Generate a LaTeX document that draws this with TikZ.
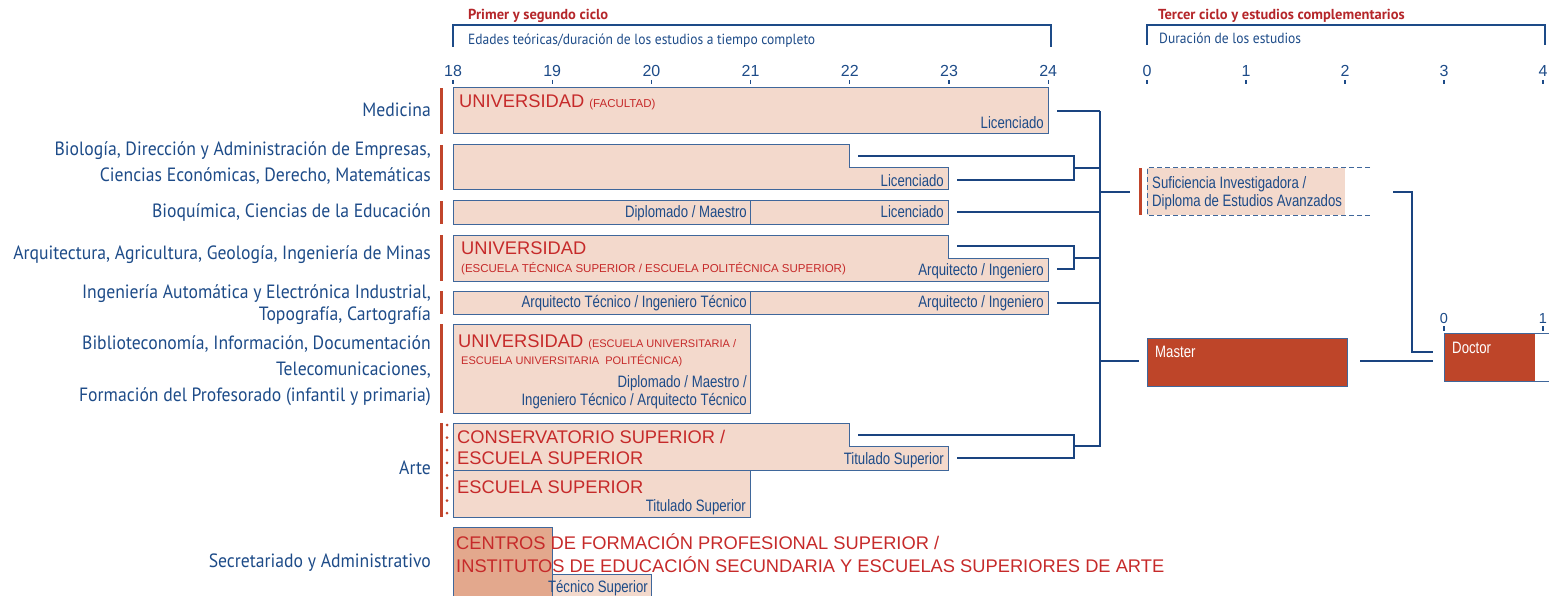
\documentclass[tikz,border=0pt]{standalone}
\usepackage{fontspec}
\setmainfont{PT Sans}
\newfontfamily\lblfont{PT Sans}[FakeStretch=0.92]
\newfontfamily\hdrfont{PT Sans}
\newfontfamily\arialfont{Liberation Sans}
\newfontfamily\narrowfont{Liberation Sans}[FakeStretch=0.8]
\definecolor{navy}{HTML}{1D4B88}
\definecolor{lineblue}{HTML}{1A4480}
\definecolor{edge}{HTML}{3F679B}
\definecolor{barfill}{HTML}{F3D9CC}
\definecolor{redtxt}{HTML}{C62A2A}
\definecolor{hdrred}{HTML}{B5262A}
\definecolor{rust}{HTML}{C1452B}
\definecolor{darkfill}{HTML}{E3A88D}
\definecolor{boxred}{HTML}{BE4529}
\newcommand\smallred{\fontsize{11.5}{13}\selectfont}
\tikzset{
 lbl/.style={anchor=base east, inner sep=0, text=navy, font=\lblfont\fontsize{19.2}{22}\selectfont},
 rtxt/.style={anchor=base west, inner sep=0, text=redtxt, font=\arialfont\fontsize{18.3}{20}\selectfont},
 rsmall/.style={anchor=base west, inner sep=0, text=redtxt, font=\arialfont\fontsize{11.5}{13}\selectfont},
 btxt/.style={anchor=base east, inner sep=0, text=navy, font=\narrowfont\fontsize{16.5}{18}\selectfont},
 wtxt/.style={anchor=base west, inner sep=0, text=white, font=\narrowfont\fontsize{16.5}{18}\selectfont},
 hdr/.style={anchor=base west, inner sep=0, text=hdrred, font=\hdrfont\bfseries\fontsize{14.5}{16}\selectfont},
 sub/.style={anchor=base west, inner sep=0, text=navy, font=\lblfont\fontsize{14.7}{16}\selectfont},
 num/.style={anchor=base, inner sep=0, text=navy, font=\arialfont\fontsize{16}{18}\selectfont},
 bar/.style={fill=barfill, draw=edge, line width=1pt},
 conn/.style={draw=lineblue, line width=2.8pt},
 thinconn/.style={draw=lineblue, line width=1.2pt},
 frame/.style={draw=navy, line width=1.1pt},
 marker/.style={fill=rust},
}
\begin{document}
\begin{tikzpicture}[x=1pt,y=-1pt]
\useasboundingbox (0,0) rectangle (1549,596);
% ---------- headers ----------
\node[hdr] (h1) at (468,20) {Primer y segundo ciclo};
\draw[frame] (453,47) -- (453,25) -- (1051,25) -- (1051,47);
\node[sub] (s1) at (468,45) {Edades teóricas/duración de los estudios a tiempo completo};
\node[hdr] (h2) at (1158,20) {Tercer ciclo y estudios complementarios};
\draw[frame] (1147,45) -- (1147,25) -- (1545,25) -- (1545,45);
\node[sub] (s2) at (1159,44) {Duración de los estudios};
\foreach \i in {0,...,6}{
  \pgfmathsetmacro\xx{453+99.2*\i}
  \pgfmathtruncatemacro\lab{18+\i}
  \node[num] (ta\i) at (\xx,77) {\lab};
  \draw[navy,line width=1.2pt] (\xx,80) -- (\xx,84);
}
\foreach \i in {0,...,4}{
  \pgfmathsetmacro\xx{1147+99*\i}
  \node[num] (tb\i) at (\xx,77) {\i};
  \draw[navy,line width=1.2pt] (\xx,80) -- (\xx,84);
}
% ---------- left labels ----------
\node[lbl] (l1) at (431,117) {Medicina};
\node[lbl] (l2a) at (431,156) {Biología, Dirección y Administración de Empresas,};
\node[lbl] (l2b) at (431,182) {Ciencias Económicas, Derecho, Matemáticas};
\node[lbl] (l3) at (431,217) {Bioquímica, Ciencias de la Educación};
\node[lbl] (l4) at (431,259) {Arquitectura, Agricultura, Geología, Ingeniería de Minas};
\node[lbl] (l5a) at (431,298) {Ingeniería Automática y Electrónica Industrial,};
\node[lbl] (l5b) at (431,320) {Topografía, Cartografía};
\node[lbl] (l6a) at (431,349) {Biblioteconomía, Información, Documentación};
\node[lbl] (l6b) at (431,375) {Telecomunicaciones,};
\node[lbl] (l6c) at (431,401) {Formación del Profesorado (infantil y primaria)};
\node[lbl] (l7) at (431,474) {Arte};
\node[lbl] (l8) at (431,567) {Secretariado y Administrativo};
% markers
\fill[marker] (439.5,88) rectangle (442.5,134);
\fill[marker] (439.5,145) rectangle (442.5,190);
\fill[marker] (439.5,201) rectangle (442.5,224);
\fill[marker] (439.5,235) rectangle (442.5,281);
\fill[marker] (439.5,291) rectangle (442.5,314);
\fill[marker] (439.5,324) rectangle (442.5,413);
\fill[marker] (439.5,423) rectangle (442.5,517);
\foreach \k in {0,...,7}{ \fill[rust] (447,425+12.6*\k) circle (1.5); }
% ---------- bars ----------
\path[bar] (453,88) rectangle (1048,134);
\path[bar] (453,145) -- (849,145) -- (849,168) -- (948,168) -- (948,190) -- (453,190) -- cycle;
\path[bar] (453,201) rectangle (948,224);
\draw[edge,line width=1pt] (750,201) -- (750,224);
\path[bar] (453,235) -- (948,235) -- (948,258) -- (1048,258) -- (1048,281) -- (453,281) -- cycle;
\path[bar] (453,291) rectangle (1048,314);
\draw[edge,line width=1pt] (750,291) -- (750,314);
\path[bar] (453,324) rectangle (750,413);
\path[bar] (453,423) -- (849,423) -- (849,446) -- (948,446) -- (948,470) -- (453,470) -- cycle;
\path[bar] (453,470) rectangle (750,517);
\path[bar] (453,527) -- (552,527) -- (552,574) -- (651,574) -- (651,598) -- (453,598) -- cycle;
\path[fill=darkfill, draw=edge, line width=1pt] (453,527) rectangle (552,598);
% ---------- bar texts ----------
\node[rtxt] (u1) at (459,108) {UNIVERSIDAD {\smallred(FACULTAD)}};
\node[btxt] (d1) at (1044,129) {Licenciado};
\node[btxt] (d2) at (944,186) {Licenciado};
\node[btxt] (d3a) at (747,217) {Diplomado / Maestro};
\node[btxt] (d3b) at (944,217) {Licenciado};
\node[rtxt] (u4) at (461,254) {UNIVERSIDAD};
\node[rsmall] (u4b) at (461,272) {(ESCUELA TÉCNICA SUPERIOR / ESCUELA POLITÉCNICA SUPERIOR)};
\node[btxt] (d4) at (1044,275) {Arquitecto / Ingeniero};
\node[btxt] (d5a) at (747,307) {Arquitecto Técnico / Ingeniero Técnico};
\node[btxt] (d5b) at (1044,307) {Arquitecto / Ingeniero};
\node[rtxt] (u6) at (458,347) {UNIVERSIDAD {\fontsize{11}{13}\selectfont(ESCUELA UNIVERSITARIA /}};
\node[rsmall,font=\arialfont\fontsize{11}{13}\selectfont] (u6b) at (461,364) {ESCUELA UNIVERSITARIA\ \ POLITÉCNICA)};
\node[btxt] (d6a) at (747,387) {Diplomado / Maestro /};
\node[btxt] (d6b) at (747,405) {Ingeniero Técnico / Arquitecto Técnico};
\node[rtxt] (u7a) at (457,443) {CONSERVATORIO SUPERIOR /};
\node[rtxt] (u7b) at (457,464) {ESCUELA SUPERIOR};
\node[btxt] (d7) at (944,464) {Titulado Superior};
\node[rtxt] (u8) at (457,493) {ESCUELA SUPERIOR};
\node[btxt] (d8) at (746,511) {Titulado Superior};
\node[rtxt] (u9a) at (456,549) {CENTROS DE FORMACIÓN PROFESIONAL SUPERIOR /};
\node[rtxt] (u9b) at (456,572) {INSTITUTOS DE EDUCACIÓN SECUNDARIA Y ESCUELAS SUPERIORES DE ARTE};
\node[btxt] (d9) at (648,592) {Técnico Superior};
% ---------- connectors ----------
\coordinate (medR) at (1057,111);
\coordinate (busTop) at (1100,111);
\coordinate (busBot) at (1100,447.4);
\coordinate (bioA) at (858,156);
\coordinate (bioB) at (957,180);
\coordinate (bioJ) at (1074,168);
\coordinate (bqA) at (957,212);
\coordinate (arA) at (957,246);
\coordinate (arB) at (1057,269);
\coordinate (arJ) at (1074,258);
\coordinate (iaA) at (1057,303);
\coordinate (teA) at (858,435);
\coordinate (teB) at (957,458);
\coordinate (teJ) at (1074,446);
\draw[thinconn] (medR) -- (busTop);
\draw[conn] (busTop) -- (busBot);
\draw[conn] (bioA) -- (bioJ |- bioA) -- (bioJ |- bioB) -- (bioB);
\draw[conn] (bioJ) -- (bioJ -| busTop);
\draw[conn] (bqA) -- (bqA -| busTop);
\draw[conn] (arA) -- (arJ |- arA) -- (arJ |- arB) -- (arB);
\draw[conn] (arJ) -- (arJ -| busTop);
\draw[conn] (iaA) -- (iaA -| busTop);
\draw[conn] (teA) -- (teJ |- teA) -- (teJ |- teB) -- (teB);
\draw[conn] (teJ) -- (teJ -| busTop);
% ---------- third cycle ----------
\fill[barfill] (1147,168) rectangle (1345,215);
\draw[edge,line width=1pt,dash pattern=on 5pt off 3pt] (1370,168) -- (1147,168) -- (1147,215) -- (1370,215);
\fill[marker] (1139,168) rectangle (1142,215);
\node[wtxt,text=navy] (suf1) at (1152,189) {Suficiencia Investigadora /};
\node[wtxt,text=navy] (suf2) at (1152,207) {Diploma de Estudios Avanzados};
\coordinate (sufIn) at (1130,192);
\draw[thinconn] (busTop |- sufIn) -- (sufIn);
\path[fill=boxred, draw=edge, line width=1pt] (1147,338) rectangle (1347,386);
\node[wtxt] (master) at (1155,357) {Master};
\coordinate (masIn) at (1139,361);
\draw[conn] (busTop |- masIn) -- (masIn);
\fill[boxred] (1444,333) rectangle (1535,381);
\draw[edge,line width=1pt] (1549,333) -- (1444,333) -- (1444,381) -- (1549,381);
\node[wtxt] (doctor) at (1452,353) {Doctor};
\node[num,font=\arialfont\fontsize{14.5}{16}\selectfont] (dt0) at (1444,323) {0};
\node[num,font=\arialfont\fontsize{14.5}{16}\selectfont] (dt1) at (1543,323) {1};
\draw[navy,line width=1.2pt] (1444,326) -- (1444,331);
\draw[navy,line width=1.2pt] (1543,326) -- (1543,331);
\coordinate (sufOut) at (1393,192);
\coordinate (sufK) at (1412,192);
\coordinate (docIn1) at (1433,352);
\draw[conn] (sufOut) -- (sufK) |- (docIn1);
\coordinate (masOut) at (1360,361);
\coordinate (docIn2) at (1433,361);
\draw[conn] (masOut) -- (docIn2);
\end{tikzpicture}
\end{document}
